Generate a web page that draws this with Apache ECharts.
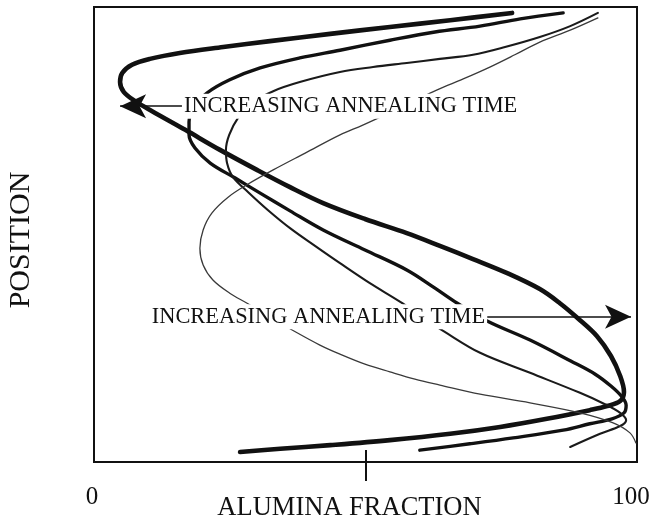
<!DOCTYPE html>
<html>
<head>
<meta charset="utf-8">
<script src="https://cdn.jsdelivr.net/npm/echarts@6/dist/echarts.min.js"></script>
<style>
  html, body { margin: 0; padding: 0; background: #fff; }
  #chart { width: 653px; height: 520px; }
</style>
</head>
<body>
<div id="chart"></div>
<script>
// Alumina fraction (0-100) versus position (0 = bottom, 100 = top) for four annealing times.
// Each profile is listed from top to bottom as [fraction, position].
const profileShortest = [
  [77.0, 98.7], [65.6, 97.1], [54.5, 95.6], [43.5, 94.1], [32.4, 92.5], [23.8, 91.2],
  [15.8, 89.9], [10.3, 88.6], [7.0, 87.3], [5.2, 85.5], [4.8, 83.5], [5.5, 81.3],
  [7.6, 79.3], [10.7, 77.1], [16.8, 73.0], [23.2, 68.6], [30.0, 64.2], [36.1, 60.4],
  [42.2, 56.9], [49.9, 53.4], [57.6, 50.3], [63.7, 47.5], [69.8, 44.6], [76.1, 41.5],
  [82.1, 38.0], [85.8, 34.9], [89.1, 31.6], [92.6, 27.7], [95.2, 23.3], [96.9, 18.9],
  [97.6, 15.4], [96.9, 13.4], [94.5, 12.3], [91.3, 11.4], [83.4, 9.5], [74.8, 7.7],
  [65.6, 6.2], [54.5, 4.8], [43.5, 3.7], [34.3, 2.9], [26.9, 2.2]
];
const profileShort = [
  [86.4, 98.7], [78.5, 97.4], [71.1, 95.8], [62.8, 94.5], [54.5, 92.7], [45.3, 90.5],
  [37.9, 88.8], [30.6, 86.6], [25.0, 84.0], [20.8, 81.1], [18.4, 78.0], [17.5, 74.7],
  [17.5, 71.9], [18.6, 69.0], [21.4, 65.7], [26.0, 62.4], [30.6, 59.1], [36.1, 55.2],
  [42.2, 51.0], [49.9, 46.6], [57.6, 42.2], [62.8, 38.2], [66.9, 34.9], [72.4, 31.0],
  [80.3, 26.8], [87.8, 22.2], [92.3, 19.3], [95.2, 16.7], [97.1, 14.5], [98.0, 12.5],
  [97.6, 10.8], [95.4, 9.5], [91.3, 8.4], [86.4, 7.0], [77.2, 5.3], [69.2, 4.0],
  [60.0, 2.6]
];
const profileLong = [
  [92.8, 98.7], [87.7, 95.8], [82.1, 93.4], [75.7, 91.2], [69.8, 89.5], [63.7, 88.6],
  [57.6, 87.7], [51.4, 86.8], [45.3, 85.7], [37.9, 83.5], [33.0, 81.5], [29.1, 78.9],
  [26.5, 75.6], [24.9, 71.9], [24.3, 68.6], [24.5, 65.7], [25.6, 62.6], [28.4, 59.3],
  [32.0, 55.4], [36.1, 51.4], [40.7, 47.5], [45.3, 43.7], [50.8, 39.3], [56.4, 35.2],
  [60.4, 31.9], [64.6, 28.6], [71.1, 24.0], [80.3, 19.6], [89.5, 15.2], [94.1, 12.7],
  [96.9, 10.8], [98.0, 9.2], [96.9, 7.9], [93.2, 6.2], [87.7, 3.3]
];
const profileLongest = [
  [92.8, 97.6], [87.7, 94.9], [82.1, 92.3], [77.5, 89.5], [72.9, 86.8], [68.0, 84.2],
  [63.2, 81.8], [58.2, 78.9], [53.6, 76.3], [49.4, 74.0], [45.3, 71.9], [38.9, 67.9],
  [33.0, 64.2], [28.4, 61.1], [24.7, 58.2], [21.7, 54.7], [20.1, 51.0], [19.5, 47.0],
  [20.1, 43.3], [21.9, 40.0], [25.0, 37.1], [28.2, 34.9], [32.8, 31.6], [37.4, 28.4],
  [41.6, 25.7], [45.3, 23.7], [49.9, 21.5], [54.5, 19.8], [59.1, 18.2], [63.7, 16.9],
  [71.1, 14.9], [80.3, 13.0], [89.5, 10.8], [95.6, 8.6], [98.7, 6.4], [99.8, 4.2]
];

// Axis tick values and labels
const xLabelValues = [0, 100];
const xTickValues = [50];

// Annotation arrows: [fraction, position] of the tail and the head
const arrowUpper = [[16.2, 78.2], [4.8, 78.2]];
const arrowLower = [[72.4, 31.9], [98.9, 31.9]];
const annotationText = 'INCREASING ANNEALING TIME';

const serif = '"Liberation Serif", "Times New Roman", serif';
const ink = '#111';

function profileSeries(name, data, width, color, z) {
  return {
    name: name,
    type: 'line',
    data: data,
    smooth: 0.35,
    showSymbol: false,
    silent: true,
    lineStyle: { color: color, width: width, cap: 'round', join: 'round' },
    z: z
  };
}

function arrowLine(pts) {
  return [
    { coord: pts[0] },
    { coord: pts[1] }
  ];
}

const chart = echarts.init(document.getElementById('chart'), null, { renderer: 'canvas' });

// The annotations ride on the top-most series so their white label boxes cut through the curves.
const annotated = profileSeries('longest', profileLongest, 1.3, '#3a3a3a', 4);
annotated.markLine = {
  silent: true,
  animation: false,
  symbol: ['none', 'arrow'],
  symbolSize: [18, 26],
  lineStyle: { type: 'solid', color: ink, width: 1.6 },
  label: {
    show: true,
    position: 'start',
    distance: 0,
    formatter: annotationText,
    color: ink,
    fontFamily: serif,
    fontSize: 22.4,
    backgroundColor: '#fff',
    padding: [2, 2, 1, 2]
  },
  data: [arrowLine(arrowUpper), arrowLine(arrowLower)]
};

const labelFont = { fontFamily: serif, fontSize: 25, color: ink };

chart.setOption({
  animation: false,
  backgroundColor: '#fff',
  grid: {
    left: 94, right: 16, top: 7, bottom: 58,
    outerBoundsMode: 'none',
    containLabel: false,
    show: true, borderColor: ink, borderWidth: 2, backgroundColor: 'transparent'
  },
  xAxis: [
    {
      type: 'value', min: 0, max: 100,
      name: 'ALUMINA FRACTION', nameLocation: 'middle', nameGap: 33,
      nameMoveOverlap: false,
      nameTextStyle: { fontFamily: serif, fontSize: 26.5, color: ink, padding: [0, 32, 0, 0] },
      axisLine: { show: false },
      splitLine: { show: false },
      axisTick: { show: true, inside: false, length: 19, customValues: xTickValues,
        lineStyle: { color: ink, width: 2 } },
      axisLabel: {
        show: true, customValues: xLabelValues, showMinLabel: true, showMaxLabel: true,
        margin: 23, ...labelFont,
        formatter: function (v) { return v === 100 ? '{r|' + v + '}' : '{l|' + v + '}'; },
        rich: {
          l: Object.assign({ padding: [0, 4, 0, 0] }, labelFont),
          r: Object.assign({ padding: [0, 12, 0, 0] }, labelFont)
        }
      }
    },
    {
      type: 'value', min: 0, max: 100, position: 'bottom',
      axisLine: { show: false },
      splitLine: { show: false },
      axisLabel: { show: false },
      axisTick: { show: true, inside: true, length: 12, customValues: xTickValues,
        lineStyle: { color: ink, width: 2 } }
    }
  ],
  yAxis: {
    type: 'value', min: 0, max: 100,
    name: 'POSITION', nameLocation: 'middle', nameGap: 58,
    nameMoveOverlap: false,
    nameTextStyle: { fontFamily: serif, fontSize: 30, color: ink, padding: [0, 11, 0, 0] },
    axisLine: { show: false },
    axisTick: { show: false },
    axisLabel: { show: false },
    splitLine: { show: false }
  },
  series: [
    profileSeries('shortest', profileShortest, 4.6, ink, 3),
    profileSeries('short', profileShort, 3.4, ink, 3),
    profileSeries('long', profileLong, 2.1, '#1a1a1a', 3),
    annotated
  ]
});
</script>
</body>
</html>
